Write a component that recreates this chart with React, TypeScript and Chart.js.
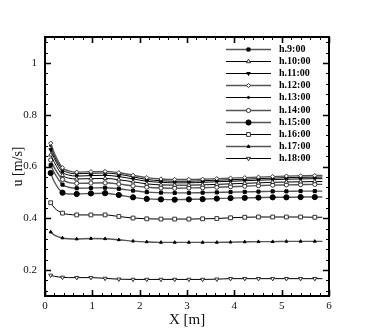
import React, { useEffect, useRef } from 'react';
import { Chart, registerables } from 'chart.js';
import { drawPoint } from 'chart.js/helpers';

Chart.register(...registerables);

const xPositions = [0.12, 0.2, 0.37, 0.5, 0.67, 0.97, 1.27, 1.56, 1.86, 2.15, 2.45, 2.74, 3.04, 3.33, 3.63, 3.92, 4.22, 4.51, 4.81, 5.1, 5.4, 5.7, 5.86];

const seriesLabels = ['h.9:00', 'h.10:00', 'h.11:00', 'h.12:00', 'h.13:00', 'h.14:00', 'h.15:00', 'h.16:00', 'h.17:00', 'h.18:00'];

const u9 = [0.605, 0.575, 0.53, 0.52, 0.516, 0.517, 0.518, 0.514, 0.507, 0.501, 0.499, 0.498, 0.498, 0.499, 0.5, 0.501, 0.502, 0.503, 0.504, 0.504, 0.505, 0.505, 0.505];
const u10 = [0.645, 0.615, 0.566, 0.555, 0.552, 0.553, 0.554, 0.549, 0.541, 0.533, 0.529, 0.528, 0.528, 0.529, 0.531, 0.533, 0.535, 0.537, 0.539, 0.54, 0.541, 0.542, 0.542];
const u11 = [0.665, 0.63, 0.578, 0.567, 0.563, 0.565, 0.566, 0.561, 0.552, 0.543, 0.539, 0.537, 0.537, 0.539, 0.541, 0.543, 0.545, 0.547, 0.549, 0.551, 0.552, 0.553, 0.553];
const u12 = [0.69, 0.65, 0.595, 0.583, 0.578, 0.58, 0.581, 0.576, 0.566, 0.557, 0.552, 0.55, 0.55, 0.551, 0.553, 0.555, 0.557, 0.559, 0.561, 0.563, 0.564, 0.565, 0.565];
const u13 = [0.68, 0.64, 0.588, 0.576, 0.572, 0.574, 0.575, 0.57, 0.56, 0.55, 0.545, 0.543, 0.543, 0.545, 0.547, 0.549, 0.551, 0.553, 0.555, 0.557, 0.558, 0.559, 0.559];
const u14 = [0.625, 0.595, 0.55, 0.538, 0.535, 0.536, 0.537, 0.532, 0.525, 0.52, 0.517, 0.516, 0.517, 0.518, 0.52, 0.522, 0.524, 0.526, 0.528, 0.529, 0.53, 0.531, 0.531];
const u15 = [0.575, 0.54, 0.499, 0.494, 0.494, 0.496, 0.497, 0.49, 0.481, 0.475, 0.473, 0.472, 0.473, 0.474, 0.476, 0.478, 0.479, 0.48, 0.481, 0.481, 0.482, 0.482, 0.482];
const u16 = [0.46, 0.44, 0.42, 0.415, 0.413, 0.413, 0.413, 0.407, 0.401, 0.398, 0.397, 0.397, 0.397, 0.398, 0.399, 0.402, 0.404, 0.405, 0.405, 0.405, 0.405, 0.404, 0.404];
const u17 = [0.347, 0.335, 0.324, 0.321, 0.32, 0.322, 0.321, 0.317, 0.312, 0.309, 0.307, 0.307, 0.307, 0.307, 0.307, 0.308, 0.309, 0.31, 0.31, 0.311, 0.311, 0.311, 0.311];
const u18 = [0.18, 0.176, 0.172, 0.171, 0.171, 0.171, 0.168, 0.165, 0.164, 0.164, 0.164, 0.164, 0.164, 0.164, 0.165, 0.167, 0.167, 0.167, 0.167, 0.167, 0.167, 0.167, 0.167];

const seriesValues = [u9, u10, u11, u12, u13, u14, u15, u16, u17, u18];

const xTickValues = [0, 1, 2, 3, 4, 5, 6];
const xTickLabels = ['0', '1', '2', '3', '4', '5', '6'];
const yTickValues = [0.2, 0.4, 0.6, 0.8, 1];
const yTickLabels = ['0.2', '0.4', '0.6', '0.8', '1'];

// marker styles per series
const markerStyles = [
  { style: 'rect', radius: 2.2, fill: '#000', stroke: '#000', rotation: 0 },
  { style: 'triangle', radius: 2.4, fill: '#fff', stroke: '#333', rotation: 0 },
  { style: 'triangle', radius: 2, fill: '#000', stroke: '#000', rotation: 180 },
  { style: 'rectRot', radius: 2.1, fill: '#fff', stroke: '#333', rotation: 0 },
  { style: 'circle', radius: 1.1, fill: '#000', stroke: '#000', rotation: 0 },
  { style: 'circle', radius: 2.1, fill: '#fff', stroke: '#333', rotation: 0 },
  { style: 'circle', radius: 2.6, fill: '#000', stroke: '#000', rotation: 0 },
  { style: 'rect', radius: 2.7, fill: '#fff', stroke: '#333', rotation: 0 },
  { style: 'triangle', radius: 1.7, fill: '#000', stroke: '#000', rotation: 0 },
  { style: 'triangle', radius: 2.3, fill: '#fff', stroke: '#333', rotation: 180 },
];
const lineColors = ['#555', '#000', '#000', '#555', '#000', '#555', '#555', '#000', '#555', '#000'];
const lineWidths = [1.4, 1, 1, 1.4, 1, 1.4, 1.4, 1, 1.4, 1];
const hiddenMarkerIdx = [1, 3, 22];

const SERIF = '"Liberation Serif", "Times New Roman", serif';

const frameTicksPlugin = {
  id: 'frameTicks',
  afterDraw(chart: any) {
    const { ctx, chartArea: a, scales } = chart;
    const x = scales.x;
    const y = scales.y;
    ctx.save();
    ctx.strokeStyle = '#000';
    // x ticks (bottom and top)
    for (let i = 0; i <= 30; i++) {
      const v = i * 0.2;
      const major = i % 5 === 0;
      const len = major ? 6 : 3;
      ctx.lineWidth = major ? 1.6 : 1;
      const px = Math.round(x.getPixelForValue(v)) + 0.5;
      ctx.beginPath();
      ctx.moveTo(px, a.bottom);
      ctx.lineTo(px, a.bottom - len);
      ctx.moveTo(px, a.top);
      ctx.lineTo(px, a.top + len);
      ctx.stroke();
    }
    // y ticks (left and right)
    for (let i = 3; i <= 27; i++) {
      const v = i * 0.04;
      const major = i % 5 === 0;
      const len = major ? 6 : 3;
      ctx.lineWidth = major ? 1.6 : 1;
      const py = Math.round(y.getPixelForValue(v)) + 0.5;
      ctx.beginPath();
      ctx.moveTo(a.left, py);
      ctx.lineTo(a.left + len, py);
      ctx.moveTo(a.right, py);
      ctx.lineTo(a.right - len, py);
      ctx.stroke();
    }
    ctx.lineWidth = 2;
    ctx.strokeRect(a.left, a.top, a.right - a.left, a.bottom - a.top);

    // legend
    const x1 = a.right - 103;
    const x2 = a.right - 58;
    const tx = a.right - 50;
    chart.data.datasets.forEach((ds: any, i: number) => {
      const yy = Math.round(a.top + 12 + i * 12.1) + 0.5;
      ctx.strokeStyle = lineColors[i];
      ctx.lineWidth = lineWidths[i];
      ctx.beginPath();
      ctx.moveTo(x1, yy);
      ctx.lineTo(x2, yy);
      ctx.stroke();
      const m = markerStyles[i];
      ctx.fillStyle = m.fill;
      ctx.strokeStyle = m.stroke;
      ctx.lineWidth = 1;
      drawPoint(ctx, { pointStyle: m.style, radius: m.radius, rotation: m.rotation, borderWidth: 1 } as any, (x1 + x2) / 2, yy);
      ctx.fillStyle = '#000';
      ctx.font = 'bold 10px ' + SERIF;
      ctx.textBaseline = 'middle';
      ctx.textAlign = 'left';
      ctx.fillText(ds.label, tx, yy);
    });
    ctx.restore();
  },
};

export default function App() {
  const ref = useRef<HTMLCanvasElement>(null);
  useEffect(() => {
    if (!ref.current) return;
    const datasets = seriesValues.map((vals, i) => {
      const m = markerStyles[i];
      return {
        label: seriesLabels[i],
        data: vals.map((v, j) => ({ x: xPositions[j], y: v })),
        borderColor: lineColors[i],
        borderWidth: lineWidths[i],
        pointStyle: m.style,
        pointRadius: vals.map((_, j) => (hiddenMarkerIdx.includes(j) ? 0 : m.radius)),
        pointRotation: m.rotation,
        pointBackgroundColor: m.fill,
        pointBorderColor: m.stroke,
        pointBorderWidth: 1,
        cubicInterpolationMode: 'monotone' as const,
        fill: false,
      };
    });
    const chart = new Chart(ref.current, {
      type: 'line',
      data: { datasets },
      options: {
        responsive: false,
        animation: false,
        devicePixelRatio: 1,
        events: [],
        layout: { padding: { top: 37, right: 43, left: 0, bottom: 0 } },
        plugins: { legend: { display: false }, tooltip: { enabled: false } },
        scales: {
          x: {
            type: 'linear',
            min: 0,
            max: 6,
            grid: { display: false, drawTicks: false },
            border: { display: false },
            afterBuildTicks: (s: any) => {
              s.ticks = xTickValues.map((v) => ({ value: v }));
            },
            afterFit: (s: any) => {
              s.height = 36;
            },
            ticks: {
              font: { family: SERIF, size: 11 },
              color: '#111',
              padding: 4,
              maxRotation: 0,
              autoSkip: false,
              callback: (_v: any, i: number) => xTickLabels[i],
            },
            title: {
              display: true,
              text: 'X [m]',
              font: { family: SERIF, size: 15 },
              color: '#111',
              padding: { top: 0, bottom: 3 },
            },
          },
          y: {
            type: 'linear',
            min: 0.1,
            max: 1.1,
            grid: { display: false, drawTicks: false },
            border: { display: false },
            afterBuildTicks: (s: any) => {
              s.ticks = yTickValues.map((v) => ({ value: v }));
            },
            afterFit: (s: any) => {
              s.width = 45;
            },
            ticks: {
              font: { family: SERIF, size: 11 },
              color: '#111',
              padding: 8,
              autoSkip: false,
              callback: (_v: any, i: number) => yTickLabels[i],
            },
            title: {
              display: true,
              text: 'u [m/s]',
              font: { family: SERIF, size: 14 },
              color: '#111',
              padding: { top: 10, bottom: 0 },
            },
          },
        },
      },
      plugins: [frameTicksPlugin],
    });
    return () => chart.destroy();
  }, []);
  return (
    <div style={{ position: 'fixed', left: 0, top: 0, width: 372, height: 332, background: '#fff' }}>
      <canvas ref={ref} width={372} height={332} style={{ display: 'block' }} />
    </div>
  );
}
